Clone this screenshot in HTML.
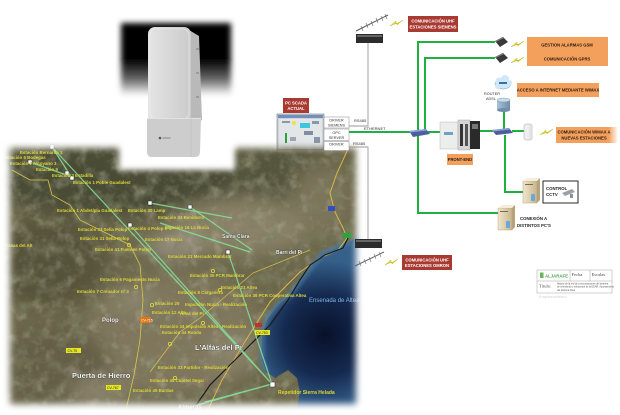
<!DOCTYPE html>
<html><head><meta charset="utf-8">
<style>
html,body{margin:0;padding:0;background:#fff;}
svg{display:block;}
text{font-family:"Liberation Sans",sans-serif;}
.lb{font-size:4.2px;font-weight:bold;text-anchor:middle;}
.w{fill:#fff;}
.k{fill:#2a1a10;}
.y{font-size:4.4px;font-weight:bold;fill:#dcd636;}
.pn{font-weight:bold;fill:#f2f2f2;stroke:#3a3a30;stroke-width:0.6px;paint-order:stroke;}
</style></head><body>
<svg width="620" height="415" viewBox="0 0 620 415" xmlns="http://www.w3.org/2000/svg">
<defs>
 <filter id="b3" x="-20%" y="-20%" width="140%" height="140%"><feGaussianBlur stdDeviation="3"/></filter>
 <filter id="b4" x="-20%" y="-20%" width="140%" height="140%"><feGaussianBlur stdDeviation="3.5"/></filter>
 <filter id="b8" x="-50%" y="-50%" width="200%" height="200%"><feGaussianBlur stdDeviation="9"/></filter>
 <filter id="b2" x="-20%" y="-20%" width="140%" height="140%"><feGaussianBlur stdDeviation="1.5"/></filter>
 <mask id="mapmask" maskUnits="userSpaceOnUse" x="0" y="120" width="380" height="295">
  <rect x="10" y="148" width="346" height="256" fill="#fff" filter="url(#b4)"/>
 </mask>
 <filter id="nd" x="0" y="0" width="100%" height="100%">
  <feTurbulence type="fractalNoise" baseFrequency="0.07" numOctaves="4" seed="5"/>
  <feColorMatrix type="matrix" values="0 0 0 0 0.2  0 0 0 0 0.21  0 0 0 0 0.12  2.6 0 0 0 -1.2"/>
 </filter>
 <filter id="nl" x="0" y="0" width="100%" height="100%">
  <feTurbulence type="fractalNoise" baseFrequency="0.09" numOctaves="3" seed="11"/>
  <feColorMatrix type="matrix" values="0 0 0 0 0.66  0 0 0 0 0.62  0 0 0 0 0.5  0 -2.6 0 0 1.25"/>
 </filter>
 <radialGradient id="sea" cx="325" cy="335" r="75" gradientUnits="userSpaceOnUse">
  <stop offset="0" stop-color="#08112a"/>
  <stop offset="0.55" stop-color="#152a50"/>
  <stop offset="1" stop-color="#35608a"/>
 </radialGradient>
 <linearGradient id="pg" x1="0" y1="22" x2="0" y2="112" gradientUnits="userSpaceOnUse">
  <stop offset="0" stop-color="#000"/>
  <stop offset="0.42" stop-color="#000"/>
  <stop offset="0.64" stop-color="#6a6a6a"/>
  <stop offset="0.82" stop-color="#fff"/>
  <stop offset="1" stop-color="#fff"/>
 </linearGradient>
 <linearGradient id="dev" x1="0" y1="0" x2="1" y2="0">
  <stop offset="0" stop-color="#e4e4e4"/>
  <stop offset="1" stop-color="#cbcbcb"/>
 </linearGradient>
 <linearGradient id="orfade" x1="0" y1="0" x2="1" y2="0">
  <stop offset="0" stop-color="#f2a05c"/>
  <stop offset="0.85" stop-color="#f2a05c"/>
  <stop offset="1" stop-color="#f2a05c" stop-opacity="0"/>
 </linearGradient>
 <linearGradient id="pc" x1="0" y1="0" x2="1" y2="0">
  <stop offset="0" stop-color="#f0e6cc"/>
  <stop offset="1" stop-color="#c9b58e"/>
 </linearGradient>
 <linearGradient id="rt" x1="0" y1="0" x2="1" y2="0">
  <stop offset="0" stop-color="#a9c2d6"/>
  <stop offset="1" stop-color="#6f8ea8"/>
 </linearGradient>
</defs>

<!-- SCADA screenshot -->
<rect x="277" y="114" width="47" height="36" fill="#cfd3d8" stroke="#777" stroke-width="0.6"/>
<rect x="278" y="115" width="45" height="3" fill="#6f8fc0"/>
<rect x="279" y="119" width="43" height="30" fill="#e2e6e9"/>
<circle cx="294" cy="123" r="2" fill="#f0e040"/>
<rect x="300" y="123" width="10" height="5" fill="#3cc6e0"/>
<rect x="285" y="133" width="2" height="10" fill="#2fa040"/>
<rect x="282" y="121" width="8" height="2" fill="#8899aa"/>
<rect x="312" y="121" width="7" height="3" fill="#8899aa"/>
<rect x="304" y="131" width="9" height="4" fill="#7f8f9f"/>
<rect x="290" y="137" width="6" height="4" fill="#9aa7b4"/>
<rect x="314" y="137" width="6" height="6" fill="#8a97a4"/>

<!-- MAP -->
<g mask="url(#mapmask)">
 <rect x="0" y="130" width="370" height="285" fill="#6c674b"/>
 <g filter="url(#b8)">
  <ellipse cx="120" cy="178" rx="135" ry="38" fill="#4a4c35"/>
  <ellipse cx="282" cy="178" rx="55" ry="32" fill="#55543c"/>
  <ellipse cx="240" cy="226" rx="70" ry="28" fill="#8a8267"/>
  <ellipse cx="48" cy="262" rx="60" ry="45" fill="#56523b"/>
  <ellipse cx="175" cy="335" rx="90" ry="60" fill="#7f765b"/>
  <ellipse cx="55" cy="365" rx="55" ry="38" fill="#655e46"/>
  <ellipse cx="175" cy="246" rx="30" ry="12" fill="#979080"/>
  <ellipse cx="132" cy="300" rx="25" ry="10" fill="#8e866f"/>
  <ellipse cx="230" cy="352" rx="25" ry="20" fill="#8c826a"/>
  <ellipse cx="100" cy="392" rx="30" ry="12" fill="#908670"/>
  <ellipse cx="320" cy="200" rx="28" ry="35" fill="#7c745a"/>
 </g>
 <rect x="0" y="130" width="370" height="285" filter="url(#nd)" opacity="0.8"/>
 <rect x="0" y="130" width="370" height="285" filter="url(#nl)" opacity="0.3"/>
 <!-- sea -->
 <path d="M362 232 L350 242 L336 248 L322 254 L312 266 L300 282 L290 295 L278 305 L268 318 L262 335 L262 360 L266 372 L275 378 L288 370 L297 378 L300 392 L296 414 L370 414 L370 232 Z" fill="url(#sea)"/>
 <path d="M350 242 L336 248 L322 254 L312 266 L300 282 L290 295 L278 305 L268 318 L262 335 L262 360 L266 372" fill="none" stroke="#4a7ca6" stroke-width="6" opacity="0.6" filter="url(#b2)"/>
 <!-- roads -->
 <path d="M352 140 L337 173 L330 193 L335 212 L343 228 L347 238 L338 250 L320 258 L300 272 L270 302 L246 340 L222 380 L206 414" fill="none" stroke="#d8b848" stroke-width="1"/>
 <path d="M348 238 L343 248 L325 255 L310 265 L300 280 L288 300 L270 325 L250 345 L230 365 L210 385 L190 414" fill="none" stroke="#1a1a1a" stroke-width="1.2"/>
 <path d="M12 170 L30 180 L48 180 L52 195 L70 205 L80 220 L100 230 L130 245 L140 265 L143 300 L140 340 L134 375 L125 414" fill="none" stroke="#d8c64a" stroke-width="0.8"/>
 <path d="M150 372 L165 352 L180 332 L200 318 L253 273 L310 250" fill="none" stroke="#d8c64a" stroke-width="0.7"/>
 <!-- green links -->
 <g stroke="#86e39a" stroke-width="1.2" fill="none" opacity="0.85">
  <line x1="52" y1="147" x2="272" y2="384"/>
  <line x1="30" y1="162" x2="72" y2="177"/>
  <line x1="52" y1="147" x2="72" y2="178"/>
  <line x1="130" y1="225" x2="272" y2="384"/>
  <line x1="150" y1="203" x2="232" y2="218"/>
  <line x1="190" y1="207" x2="252" y2="250"/>
  <line x1="228" y1="252" x2="272" y2="384"/>
  <line x1="160" y1="223" x2="250" y2="252"/>
  <line x1="272" y1="384" x2="180" y2="410"/>
  <line x1="272" y1="384" x2="205" y2="402"/>
 </g>
 <!-- markers -->
 <g fill="#fff" stroke="#222" stroke-width="0.5">
  <rect x="50" y="145" width="4" height="4"/>
  <rect x="28" y="160" width="4" height="4"/>
  <rect x="65" y="171" width="4" height="4"/>
  <rect x="70" y="176" width="4" height="4"/>
  <rect x="148" y="201" width="4" height="4"/>
  <rect x="128" y="223" width="4" height="4"/>
  <rect x="188" y="205" width="4" height="4"/>
  <rect x="226" y="250" width="4" height="4"/>
  <rect x="270" y="382" width="5" height="5"/>
 </g>
 <g fill="none" stroke="#e2dc38" stroke-width="0.8">
  <circle cx="129" cy="245" r="1.6"/><circle cx="136" cy="287" r="1.6"/><circle cx="152" cy="305" r="1.6"/>
  <circle cx="170" cy="344" r="1.6"/><circle cx="203" cy="323" r="1.6"/><circle cx="220" cy="290" r="1.6"/>
  <circle cx="175" cy="378" r="1.6"/><circle cx="213" cy="271" r="1.6"/>
 </g>
 <!-- yellow labels -->
 <text class="y" x="20" y="154">Estación Bernarda 1</text>
 <text class="y" x="4" y="159">Estación 6 Bodegas</text>
 <text class="y" x="10" y="165">Estación 2 Alcoyano 3</text>
 <text class="y" x="36" y="171">Estación 9</text>
 <text class="y" x="52" y="177">Estación 3 Estadilla</text>
 <text class="y" x="73" y="184">Estación 1 Poble Guadalest</text>
 <text class="y" x="57" y="212">Estación 1 Abdet/pla Guadalest</text>
 <text class="y" x="128" y="212">Estación 30 Lamp</text>
 <text class="y" x="158" y="219">Estación 34 Benidorm</text>
 <text class="y" x="128" y="230">Estación 4 Polop nº1</text>
 <text class="y" x="165" y="229">Estación 16 La Nucia</text>
 <text class="y" x="78" y="231">Estación 33 Sella Polop</text>
 <text class="y" x="80" y="240">Estación 31 Sella Polop</text>
 <text class="y" x="95" y="251">Estación 41 Fuentes Polop</text>
 <text class="y" x="145" y="241">Estación 17 Nucia</text>
 <text class="y" x="5" y="247">Casas del Alt</text>
 <text class="y" x="168" y="258">Estación 21 Mercado Mambrar</text>
 <text class="y" x="190" y="277">Estación 35 PCR Mambrar</text>
 <text class="y" x="100" y="281">Estación 6 Pagaments Nucia</text>
 <text class="y" x="77" y="293">Estación 7 Creuador nº 3</text>
 <text class="y" x="221" y="289">Estación 21 Altea</text>
 <text class="y" x="233" y="297">Estación 36 PCR Cooperativa Altea</text>
 <text class="y" x="178" y="294">Estación 8 Carganera</text>
 <text class="y" x="185" y="306">Impulsión Nucia - Realización</text>
 <text class="y" x="155" y="305">Estación 25</text>
 <text class="y" x="152" y="314">Estación 12 Alto</text>
 <text class="y" x="180" y="315">Altea del Pí</text>
 <text class="y" x="160" y="328">Estación 34 Impulsión Altea - Realización</text>
 <text class="y" x="162" y="334">Estación 44 Ronda</text>
 <text class="y" x="158" y="369">Estación 33 Partidor - Realización</text>
 <text class="y" x="150" y="382">Estación 48 Cuartel Segar</text>
 <text class="y" x="133" y="392">Estación 49 Bardas</text>
 <text class="y" x="278" y="394" style="font-size:5px">Repetidor Sierra Helada</text>
 <!-- tags -->
 <rect x="140" y="317" width="11" height="6" fill="#e07818"/><text x="141" y="321.5" style="font-size:3.5px;fill:#fff">CV-715</text>
 <rect x="66" y="348" width="15" height="5" fill="#e8e820"/><text x="67.5" y="352" style="font-size:3.5px;fill:#222">CV-70</text>
 <rect x="106" y="385" width="15" height="5" fill="#e8e820"/><text x="107" y="389" style="font-size:3.5px;fill:#222">CV-767</text>
 <rect x="255" y="330" width="15" height="5" fill="#e8e820"/><text x="256" y="334" style="font-size:3.5px;fill:#222">CV-753</text>
 <rect x="255" y="323" width="7" height="4" fill="#c03030"/>
 <rect x="342" y="233" width="10" height="5" fill="#30a040"/>
 <rect x="328" y="206" width="7" height="5" fill="#3050c0"/>
 <!-- place names -->
 <text class="pn" x="102" y="322" style="font-size:6px">Polop</text>
 <text class="pn" x="72" y="378" style="font-size:7.5px">Puerta de Hierro</text>
 <text class="pn" x="195" y="350" style="font-size:7.5px">L'Alfàs del Pí</text>
 <text class="pn" x="222" y="238" style="font-size:5px">Santa Clara</text>
 <text class="pn" x="276" y="254" style="font-size:5px">Barri del Pí</text>
 <text class="pn" x="178" y="409" style="font-size:6px">Almeras</text>
 <text x="309" y="302" style="font-size:6px;fill:#7fb4ea">Ensenada de Altea</text>
</g>

<!-- photo box -->
<rect x="119" y="100" width="116" height="70" fill="#fff" filter="url(#b3)"/>
<rect x="121" y="23" width="110" height="92" fill="url(#pg)" filter="url(#b3)"/>
<!-- device -->
<path d="M189 30 L199 36 L202 120 L191 125 Z" fill="#b9b9b9"/>
<rect x="196" y="48" width="3" height="2" fill="#9a9a9a"/>
<rect x="196" y="72" width="3" height="2" fill="#9a9a9a"/>
<rect x="196" y="96" width="3" height="2" fill="#9a9a9a"/>
<rect x="148" y="27" width="43" height="96" rx="7" fill="url(#dev)"/>
<rect x="150" y="29" width="39" height="90" rx="6" fill="none" stroke="#eee" stroke-width="0.6"/>
<path d="M147 118 L201 118 L200 152 Q200 157 195 157 L152 157 Q147 157 147 152 Z" fill="#cdcdcd"/>
<line x1="147" y1="118.5" x2="201" y2="118.5" stroke="#e8e8e8" stroke-width="0.8"/>
<line x1="191" y1="118" x2="191" y2="157" stroke="#bbb" stroke-width="0.6"/>
<circle cx="160" cy="138" r="1.3" fill="#555"/>
<rect x="162.5" y="137.5" width="8" height="1" fill="#888"/>

<!-- top antenna / radio -->
<line x1="356" y1="31" x2="388" y2="15" stroke="#555" stroke-width="1"/>
<g stroke="#666" stroke-width="0.6">
 <line x1="361" y1="26" x2="363" y2="31"/><line x1="366" y1="23" x2="368" y2="28"/><line x1="371" y1="21" x2="373" y2="26"/>
 <line x1="376" y1="18" x2="378" y2="23"/><line x1="381" y1="16" x2="383" y2="21"/><line x1="385" y1="14" x2="387" y2="19"/>
</g>
<rect x="356" y="34" width="27" height="9" fill="#2c2c2c"/>
<rect x="357" y="35" width="25" height="2" fill="#666"/>
<polygon points="390,26 396,21 396,24 403,20 397,25 397,23" fill="#e6dc20" stroke="#a09a10" stroke-width="0.3"/>
<rect x="408" y="16" width="50" height="16" fill="#a93a31"/>
<text class="lb w" x="433" y="22.5">COMUNICACIÓN UHF</text>
<text class="lb w" x="433" y="28.5">ESTACIONES SIEMENS</text>

<!-- gray RS485 lines -->
<g stroke="#9a9a9a" stroke-width="0.9" fill="none">
 <polyline points="368,43 368,126 349,126"/>
 <polyline points="349,147 368,147 368,240"/>
</g>
<text x="354" y="122" style="font-size:4px;fill:#333">RS485</text>
<text x="353" y="145" style="font-size:4px;fill:#333">RS485</text>

<!-- PC SCADA label -->
<rect x="283" y="98" width="26" height="15" fill="#a93a31"/>
<text class="lb w" x="296" y="104.5">PC SCADA</text>
<text class="lb w" x="296" y="110">ACTUAL</text>

<!-- driver boxes -->
<g fill="#fff" stroke="#888" stroke-width="0.5">
 <rect x="324" y="117" width="25" height="11"/>
 <rect x="324" y="129" width="25" height="11.5"/>
 <rect x="324" y="141.5" width="25" height="9"/>
</g>
<g style="font-size:3.8px;fill:#333;text-anchor:middle">
 <text x="336.5" y="121.5">DRIVER</text><text x="336.5" y="126.3">SIEMENS</text>
 <text x="336.5" y="134">OPC</text><text x="336.5" y="139">SERVER</text>
 <text x="336.5" y="145.5">DRIVER</text>
</g>

<!-- green network -->
<g stroke="#1fb040" stroke-width="2" fill="none">
 <line x1="349" y1="132" x2="410" y2="132"/>
 <polyline points="495,42 418,42 418,213 498,213"/>
 <polyline points="495,58 425,58 425,131"/>
 <line x1="428" y1="132" x2="441" y2="132"/>
 <line x1="480" y1="131" x2="494" y2="131"/>
 <line x1="512" y1="131" x2="524" y2="131"/>
 <line x1="504" y1="111" x2="504" y2="129"/>
 <polyline points="505,135 505,192 523,192"/>
</g>
<text x="364" y="130" style="font-size:4px;fill:#333">ETHERNET</text>

<!-- switch 1 -->
<polygon points="409,131 426,129 430,134 413,137" fill="#4b5f9c"/>
<polygon points="409,131 426,129 427,130.5 410,132.5" fill="#8fa2d6"/>
<!-- front-end PLC -->
<rect x="440" y="122" width="18" height="27" fill="#eceeec" stroke="#aaa" stroke-width="0.4"/>
<rect x="444" y="132" width="9" height="3" fill="#6fa0c8"/>
<rect x="458" y="120" width="12" height="30" fill="#d5d5d5" stroke="#999" stroke-width="0.4"/>
<rect x="460" y="124" width="3" height="22" fill="#333"/>
<rect x="465" y="124" width="3" height="22" fill="#555"/>
<rect x="470" y="121" width="10" height="28" fill="#2a2a2a"/>
<rect x="472" y="124" width="6" height="5" fill="#777"/>
<rect x="447" y="154" width="26" height="11" fill="#f2a05c"/>
<text class="lb k" x="460" y="161">FRONT-END</text>

<!-- modems -->
<polygon points="495,41 503,37 508,42 500,47" fill="#3a3a3a"/>
<polygon points="495,41 503,37 504,38 496,42" fill="#777"/>
<polygon points="495,57 503,53 508,58 500,63" fill="#3a3a3a"/>
<polygon points="495,57 503,53 504,54 496,58" fill="#777"/>
<polygon points="511,47 517,42 517,45 524,41 518,46 518,44" fill="#e6dc20" stroke="#a09a10" stroke-width="0.3"/>
<polygon points="511,63 517,58 517,61 524,57 518,62 518,60" fill="#e6dc20" stroke="#a09a10" stroke-width="0.3"/>
<rect x="527" y="37" width="81" height="29" fill="#f2a05c"/>
<text class="lb k" x="567" y="46.5">GESTION ALARMAS GSM</text>
<text class="lb k" x="567" y="60.5">COMUNICACIÓN GPRS</text>

<!-- cloud + router -->
<g fill="#cfe8f8" stroke="#6aa0c8" stroke-width="0.5">
 <ellipse cx="503" cy="84" rx="8" ry="5"/>
</g>
<g fill="#cfe8f8">
 <circle cx="499" cy="81" r="3.5"/><circle cx="505" cy="79" r="4"/><circle cx="509" cy="83" r="3"/><circle cx="498" cy="86" r="3"/>
</g>
<rect x="499" y="82" width="8" height="2" fill="#3a6fa8"/>
<text x="484" y="95" style="font-size:3.8px;fill:#333">ROUTER</text>
<text x="486" y="100" style="font-size:3.8px;fill:#333">ADSL</text>
<rect x="497" y="100" width="13" height="10" fill="url(#rt)"/>
<ellipse cx="503.5" cy="110" rx="6.5" ry="2" fill="#6f8ea8"/>
<ellipse cx="503.5" cy="100" rx="6.5" ry="2" fill="#c8dcea" stroke="#6f8ea8" stroke-width="0.4"/>
<rect x="517" y="83" width="82" height="14" fill="#f2a05c"/>
<text class="lb k" x="558" y="91.5">ACCESO A INTERNET MEDIANTE WIMAX</text>

<!-- switch 2 -->
<polygon points="492,130 509,128 513,133 496,135" fill="#4b5f9c"/>
<polygon points="492,130 509,128 510,129.5 493,131.5" fill="#8fa2d6"/>

<!-- wimax device -->
<rect x="524" y="124" width="8" height="16" rx="1.5" fill="#eeeeee" stroke="#aaa" stroke-width="0.5"/>
<line x1="530" y1="125" x2="530" y2="139" stroke="#ccc" stroke-width="0.6"/>
<polygon points="540,135 546,130 546,133 553,129 547,134 547,132" fill="#e6dc20" stroke="#a09a10" stroke-width="0.3"/>
<rect x="556" y="127" width="62" height="16" fill="url(#orfade)"/>
<text class="lb k" x="584" y="133.5">COMUNICACIÓN WIMAX A</text>
<text class="lb k" x="584" y="139.5">NUEVAS ESTACIONES</text>

<!-- CCTV -->
<rect x="523" y="181" width="14" height="22" fill="url(#pc)" stroke="#a89670" stroke-width="0.4"/>
<polygon points="523,181 527,178 540,178 537,181" fill="#f5edd8"/>
<polygon points="537,181 540,178 540,200 537,203" fill="#b8a27a"/>
<rect x="525" y="184" width="8" height="1" fill="#7a6a50"/>
<rect x="531" y="194" width="4" height="7" rx="1" fill="#6aa8d8"/>
<rect x="543" y="181" width="35" height="22" fill="#fff" stroke="#111" stroke-width="0.9"/>
<text x="546" y="190" style="font-size:4.3px;font-weight:bold;fill:#222">CONTROL</text>
<text x="546" y="196" style="font-size:4.3px;font-weight:bold;fill:#222">CCTV</text>
<polygon points="562,193 572,189 575,192 565,196" fill="#9aa0a8"/>
<rect x="570" y="194" width="3" height="4" fill="#8a9098"/>

<!-- PC 2 -->
<rect x="498" y="208" width="14" height="22" fill="url(#pc)" stroke="#a89670" stroke-width="0.4"/>
<polygon points="498,208 502,205 515,205 512,208" fill="#f5edd8"/>
<polygon points="512,208 515,205 515,227 512,230" fill="#b8a27a"/>
<rect x="500" y="211" width="8" height="1" fill="#7a6a50"/>
<rect x="506" y="221" width="4" height="7" rx="1" fill="#6aa8d8"/>
<text x="520" y="220" style="font-size:4.3px;font-weight:bold;fill:#222">CONEXIÓN A</text>
<text x="517" y="227" style="font-size:4.3px;font-weight:bold;fill:#222">DISTINTOS PC'S</text>

<!-- lower radio / antenna -->
<rect x="355" y="239" width="27" height="9" fill="#2c2c2c"/>
<rect x="356" y="240" width="25" height="2" fill="#666"/>
<line x1="355" y1="266" x2="384" y2="252" stroke="#666" stroke-width="1"/>
<g stroke="#777" stroke-width="0.6">
 <line x1="359" y1="261" x2="361" y2="266"/><line x1="364" y1="259" x2="366" y2="264"/><line x1="369" y1="257" x2="371" y2="262"/>
 <line x1="374" y1="254" x2="376" y2="259"/><line x1="379" y1="252" x2="381" y2="257"/>
</g>
<polygon points="385,265 391,260 391,263 398,259 392,264 392,262" fill="#e6dc20" stroke="#a09a10" stroke-width="0.3"/>
<rect x="402" y="255" width="50" height="15" fill="#a93a31"/>
<text class="lb w" x="427" y="261.5">COMUNICACIÓN UHF</text>
<text class="lb w" x="427" y="267.2">ESTACIONES OMRON</text>

<!-- title block -->
<g opacity="0.9">
<rect x="537" y="270" width="75" height="23" fill="#fff" stroke="#999" stroke-width="0.5"/>
<line x1="570" y1="270" x2="570" y2="281" stroke="#999" stroke-width="0.5"/>
<line x1="590" y1="270" x2="590" y2="281" stroke="#999" stroke-width="0.5"/>
<line x1="537" y1="281" x2="612" y2="281" stroke="#999" stroke-width="0.5"/>
<rect x="540" y="272.5" width="3.5" height="5.5" fill="#5ab04a"/>
<text x="545" y="277.3" textLength="23" lengthAdjust="spacingAndGlyphs" style="font-size:4.4px;font-weight:bold;fill:#3a9a3a">ALJARAFE</text>
<text x="571.5" y="276" style="font-size:4.5px;font-family:'Liberation Serif',serif;fill:#333">Fecha</text>
<text x="591.5" y="276" style="font-size:4.5px;font-family:'Liberation Serif',serif;fill:#333">Escalas</text>
<text x="539" y="287.5" style="font-size:4.5px;font-family:'Liberation Serif',serif;fill:#333">Título:</text>
<text x="557" y="284.5" style="font-size:2.4px;fill:#444">Mejora de la red de comunicaciones del sistema</text>
<text x="557" y="287.5" style="font-size:2.4px;fill:#444">de telemando y telecontrol de la EDAR, Ayuntamiento</text>
<text x="557" y="291" style="font-size:2.4px;fill:#444">del sistema Altea</text>
<text x="539" y="298" style="font-size:4px;fill:#ccc">Emplazamiento</text>
</g>
</svg>
</body></html>
